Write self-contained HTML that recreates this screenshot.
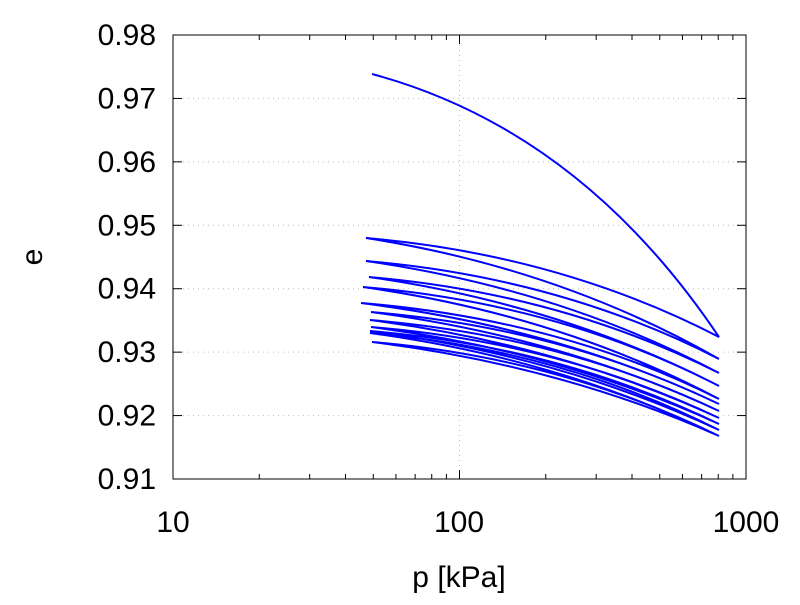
<!DOCTYPE html>
<html><head><style>body{margin:0;background:#fff}</style></head><body>
<svg id="s" width="800" height="600" xmlns="http://www.w3.org/2000/svg" font-family="Liberation Sans, sans-serif">
<rect width="800" height="600" fill="#fff"/>
<g id="grid" stroke="#bbb" stroke-dasharray="1,4" stroke-width="1"></g>
<g id="ticks" stroke="#000" stroke-width="1"></g>
<g id="curves" fill="none" stroke="#0000ff" stroke-width="2"></g>
<rect x="173" y="35" width="573" height="444" fill="none" stroke="#000" stroke-width="1"/>
<g font-size="30" fill="#000" text-anchor="end" id="ylab"></g>
<g font-size="30" fill="#000" text-anchor="middle">
<text x="173" y="532">10</text><text x="459" y="532">100</text><text x="746" y="532">1000</text>
<text x="459" y="587">p [kPa]</text>
<text x="33" y="266" transform="rotate(-90 33 257)">e</text>
</g>
</svg>
<script>
var ns="http://www.w3.org/2000/svg";
function el(p,t,a){var e=document.createElementNS(ns,t);for(var k in a)e.setAttribute(k,a[k]);document.getElementById(p).appendChild(e);}
var X=function(p){return 173+(Math.log10(p)-1)*286.5};
for(var i=0;i<=7;i++){var y=35+i*63.43;
 if(i>0&&i<7)el("grid","line",{x1:173,x2:746,y1:y,y2:y});
 el("ticks","line",{x1:173,x2:182,y1:y,y2:y});el("ticks","line",{x1:737,x2:746,y1:y,y2:y});
 var t=document.createElementNS(ns,"text");t.setAttribute("x",156);t.setAttribute("y",y+10);t.textContent=(0.98-i*0.01).toFixed(2);document.getElementById("ylab").appendChild(t);}
for(var d=10;d<=100;d*=10)for(var m=1;m<10;m++){var x=X(d*m);if(m==1&&d==10)continue;
 var L=(m==1)?9:5;el("ticks","line",{x1:x,x2:x,y1:479,y2:479-L});el("ticks","line",{x1:x,x2:x,y1:35,y2:35+L});
 if(m==1)el("grid","line",{x1:x,x2:x,y1:35,y2:479});}
var R=[337,359,373,386,399,404,411,418,424,430,436];
var Lx=[366,366,369,363,361,371,370,371,370,370,372];
var Ly=[238,261,277,287,303,312,320,327,331,333,342];
var d="M372,74 Q580,130 719,337";
for(var i=0;i<Ly.length;i++){var r=R[i],l=Ly[i];
 d+=" Q560,"+(l+0.17*(r-l))+" "+Lx[i]+","+l;
 var r2=R[Math.min(i+1,R.length-1)];
 d+=" Q560,"+(l+0.25*(r2-l))+" 719,"+r2;}
el("curves","path",{d:d});
</script>
</body></html>
